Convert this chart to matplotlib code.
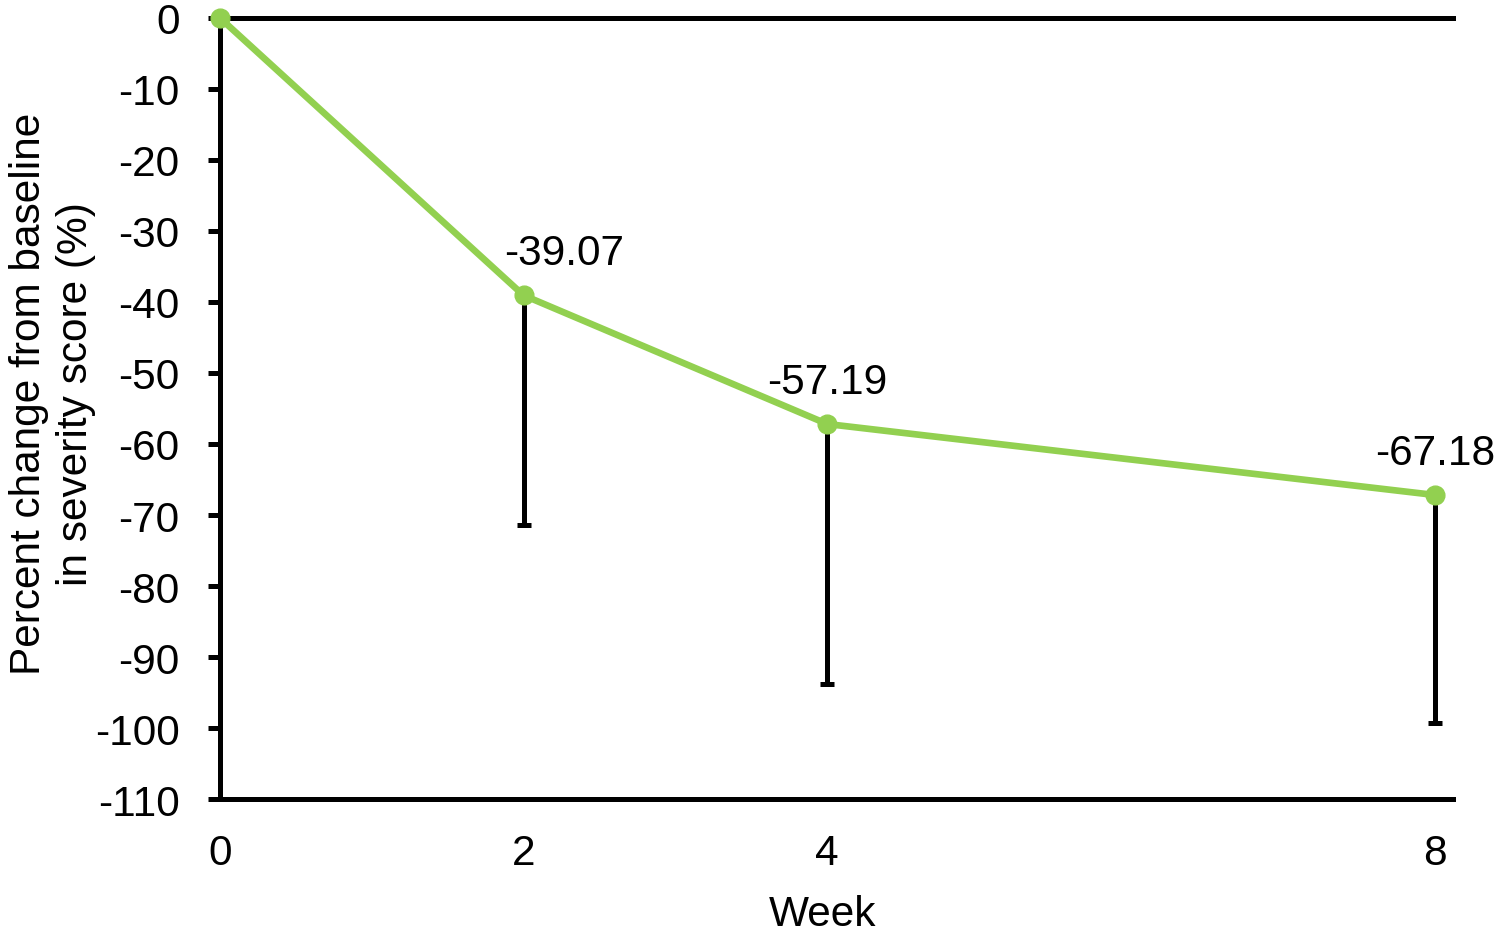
import matplotlib
matplotlib.use("Agg")
import matplotlib.pyplot as plt

weeks = [0, 2, 4, 8]
mean_change = [0.0, -39.07, -57.19, -67.18]
lower_err = [0.0, 32.4, 36.6, 32.1]
value_labels = ["", "-39.07", "-57.19", "-67.18"]
y_ticks = [0, -10, -20, -30, -40, -50, -60, -70, -80, -90, -100, -110]
x_ticks = [0, 2, 4, 8]

plt.rcParams['font.family'] = ['Liberation Sans', 'DejaVu Sans']
plt.rcParams['axes.unicode_minus'] = False

FS = 30.5
fig = plt.figure(figsize=(15, 9.37), dpi=100)
ax = fig.add_axes([0.1465, 0.146, 0.8222, 0.834])

green = '#92D050'
ax.errorbar(weeks[1:], mean_change[1:], yerr=[lower_err[1:], [0]*3], fmt='none',
            ecolor='black', elinewidth=3.6, capsize=5, capthick=3.6, zorder=2)
ax.plot(weeks, mean_change, color=green, lw=4.8, marker='o', ms=13.5, zorder=3, clip_on=False)

offsets = [(0, 0), (29, 16), (0, 16), (0, 16)]
for x, y, t, off in zip(weeks, mean_change, value_labels, offsets):
    if t:
        ax.annotate(t, (x, y), xytext=off, textcoords='offset points',
                    ha='center', va='bottom', fontsize=FS)

ax.set_xlim(0, 8.12)
ax.set_ylim(-110, 0)
ax.set_yticks(y_ticks)
ax.set_xticks(x_ticks)
ax.tick_params(axis='y', length=9, width=3.6, pad=20, labelsize=FS, direction='out')
ax.tick_params(axis='x', length=0, pad=24, labelsize=FS)
for s in ['left', 'bottom', 'top']:
    ax.spines[s].set_linewidth(3.6)
ax.spines['right'].set_visible(False)

ax.set_xlabel('Week', fontsize=FS)
ax.xaxis.set_label_coords(0.489, -0.121)
ax.set_ylabel('Percent change from baseline\nin severity score (%)', fontsize=FS,
              linespacing=1.25)
ax.yaxis.set_label_coords(-0.1, 0.52)

fig.savefig('out.png', dpi=100)
